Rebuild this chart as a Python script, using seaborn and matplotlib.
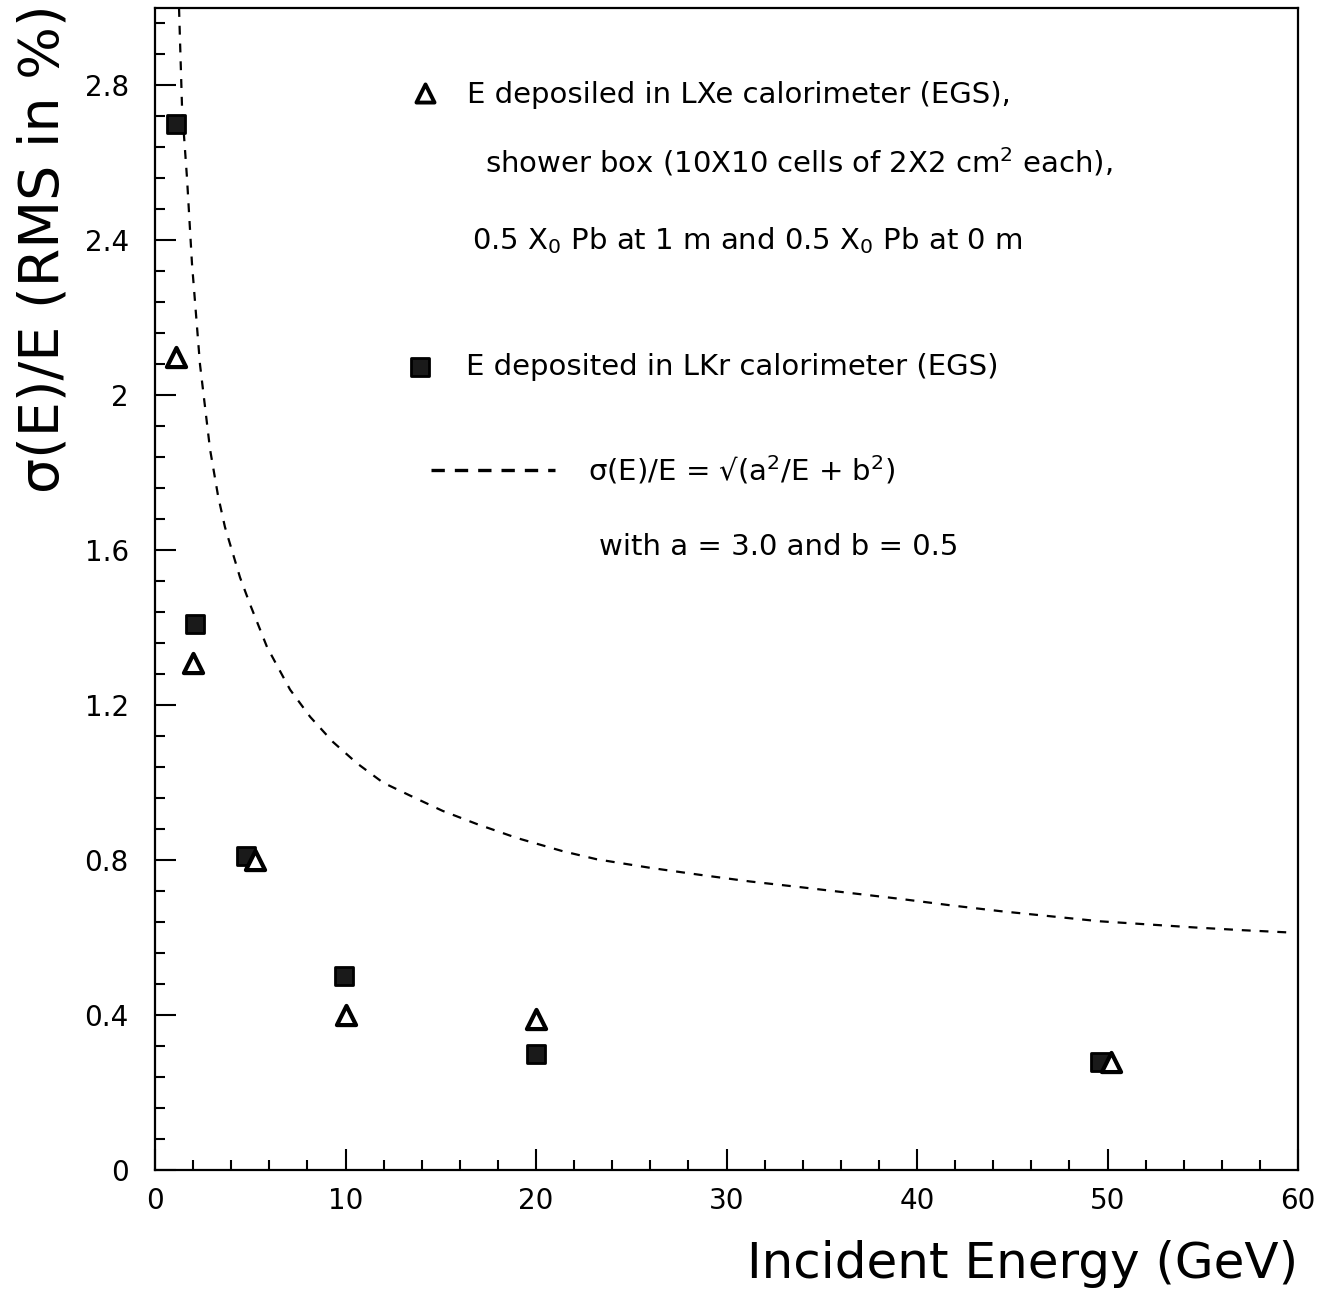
import matplotlib
matplotlib.use("Agg")
import matplotlib.pyplot as plt
import seaborn as sns
import pandas as pd
from matplotlib.ticker import MultipleLocator, FixedLocator

# ---- data ----
lxe_energy = [1.1, 2.0, 5.25, 10.0, 20.0, 50.2]
lxe_sigma = [2.10, 1.31, 0.80, 0.40, 0.39, 0.28]

lkr_energy = [1.1, 2.1, 4.75, 9.9, 20.0, 49.6]
lkr_sigma = [2.70, 1.41, 0.81, 0.50, 0.30, 0.28]

# dashed curve sigma(E)/E = sqrt(a^2/E + b^2)
curve_energy = [1.26, 1.42, 1.68, 1.94, 2.36, 2.89, 3.31, 3.67, 4.46, 4.99, 5.88,
                7.09, 8.14, 9.34, 10.6, 11.97, 13.54, 15.1, 16.9, 19.0, 21.4,
                23.2, 26.0, 28.6, 31.2, 33.9, 36.5, 39.1, 41.8, 44.4, 47.0,
                49.6, 52.1, 54.6, 57.1, 59.6]
curve_sigma = [3.0, 2.74, 2.56, 2.34, 2.08, 1.86, 1.74, 1.66, 1.53, 1.46, 1.35,
               1.24, 1.17, 1.105, 1.05, 1.00, 0.963, 0.927, 0.893, 0.857, 0.823,
               0.802, 0.780, 0.762, 0.745, 0.730, 0.715, 0.700, 0.683, 0.668,
               0.655, 0.642, 0.634, 0.626, 0.619, 0.613]

x_ticks = [0, 10, 20, 30, 40, 50, 60]
y_ticks = [0, 0.4, 0.8, 1.2, 1.6, 2.0, 2.4, 2.8]
y_tick_labels = ["0", "0.4", "0.8", "1.2", "1.6", "2", "2.4", "2.8"]

df_lxe = pd.DataFrame({"E": lxe_energy, "s": lxe_sigma})
df_lkr = pd.DataFrame({"E": lkr_energy, "s": lkr_sigma})
df_fit = pd.DataFrame({"E": curve_energy, "s": curve_sigma})

sns.set_style("ticks")
plt.rcParams["font.family"] = ["DejaVu Sans"]
plt.rcParams["mathtext.fontset"] = "dejavusans"
for k in ["text.color", "axes.labelcolor", "xtick.color", "ytick.color", "axes.edgecolor"]:
    plt.rcParams[k] = "black"

fig = plt.figure(figsize=(13.25, 13.1), dpi=100)
ax = fig.add_axes([0.117, 0.1069, 0.8627, 0.887])

sns.lineplot(data=df_fit, x="E", y="s", ax=ax, color="black", lw=1.6,
             linestyle=(0, (4, 4)), sort=False, estimator=None)
sns.scatterplot(data=df_lkr, x="E", y="s", ax=ax, marker="s", s=150,
                facecolor="#1a1a1a", edgecolor="black", linewidth=2.0, zorder=5)
sns.scatterplot(data=df_lxe, x="E", y="s", ax=ax, marker="^", s=190,
                facecolor="white", edgecolor="black", linewidth=3.0, zorder=6)

ax.set_xlim(0, 60)
ax.set_ylim(0, 3.0)
ax.xaxis.set_major_locator(FixedLocator(x_ticks))
ax.xaxis.set_minor_locator(MultipleLocator(2))
ax.yaxis.set_major_locator(FixedLocator(y_ticks))
ax.yaxis.set_minor_locator(MultipleLocator(0.08))
ax.set_yticklabels(y_tick_labels)

ax.tick_params(which="both", direction="in", top=False, right=False,
               width=1.5, labelsize=20)
ax.tick_params(axis="x", which="major", length=15, pad=12)
ax.tick_params(axis="y", which="major", length=15, pad=19)
ax.tick_params(which="minor", length=7)
for sp in ax.spines.values():
    sp.set_linewidth(1.6)

ax.set_xlabel("Incident Energy (GeV)", fontsize=36, loc="right", labelpad=18)
ax.set_ylabel("")
fig.text(0.033, 0.997, "σ(E)/E (RMS in %)", rotation=90, fontsize=40,
         ha="center", va="top")

# legend block drawn inside the frame
tr = ax.transAxes
txt = dict(transform=tr, fontsize=21, va="center", ha="left")
ax.scatter([0.236], [0.927], transform=tr, marker="^", s=170,
           facecolor="white", edgecolor="black", linewidth=2.8, zorder=6)
ax.text(0.273, 0.925, "E deposiled in LXe calorimeter (EGS),", **txt)
ax.text(0.289, 0.867, "shower box (10X10 cells of 2X2 cm$^2$ each),", **txt)
ax.text(0.277, 0.800, "0.5 X$_0$ Pb at 1 m and 0.5 X$_0$ Pb at 0 m", **txt)
ax.scatter([0.232], [0.691], transform=tr, marker="s", s=150,
           facecolor="#1a1a1a", edgecolor="black", linewidth=2.0, zorder=6)
ax.text(0.272, 0.691, "E deposited in LKr calorimeter (EGS)", **txt)
ax.plot([0.241, 0.350], [0.602, 0.602], transform=tr, color="black",
        lw=2.4, linestyle=(0, (4, 3)))
ax.text(0.379, 0.602, "σ(E)/E = √(a$^2$/E + b$^2$)", **txt)
ax.text(0.388, 0.536, "with a = 3.0 and b = 0.5", **txt)

fig.savefig("out.png", dpi=100)
